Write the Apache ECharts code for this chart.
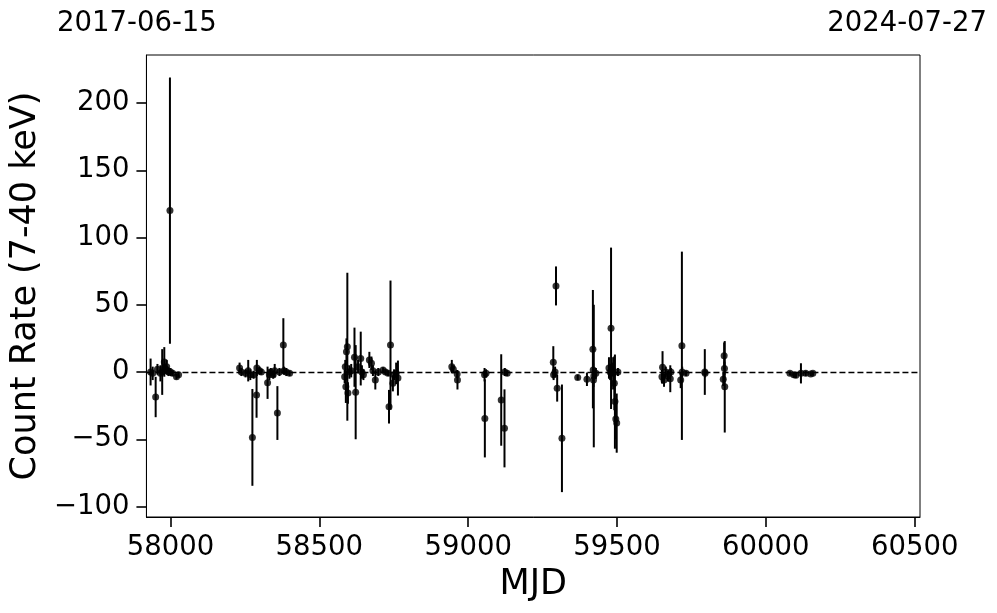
<!DOCTYPE html>
<html>
<head>
<meta charset="utf-8">
<script src="https://cdn.jsdelivr.net/npm/echarts@6/dist/echarts.min.js"></script>
<style>html,body{margin:0;padding:0;background:#fff;}#c{width:997px;height:613px;}</style>
</head>
<body>
<div id="c"></div>
<script>
// ---- data (MJD, count rate, 1-sigma error) ----
const mjd = [
  57933,57940,57950,57956,57966,57972,57979,57980,57983,57987,57990,57993,57998,58000,58007,58020,58027,
  58232,58238,58252,58261,58268,58275,58279,58289,58290,58299,58305,58326,58332,58337,58345,58350,58359,58366,58379,58381,58389,58400,
  58585,58587,58589,58591,58594,58596,58601,58607,58618,58622,58630,58639,58643,58648,58668,58675,58680,58688,58698,58714,58722,58731,58734,58739,58747,58751,58758,58764,
  58945,58950,58963,58964,59055,59056,59060,59111,59122,59123,59131,
  59286,59287,59292,59295,59299,59315,59368,59399,59419,59420,59421,59422,59429,59473,59477,59480,59483,59487,59491,59493,59496,59499,59503,
  59651,59653,59658,59664,59671,59679,59681,59714,59718,59719,59732,
  59795,59796,59857,59860,59861,59862,
  60081,60094,60101,60118,60134,60151,60158
];
const rate = [
  0,-1,-18.6,2,-1,0,7.5,3,2,4,1,0,120,0,-1,-3.5,-2,
  3,0,-1,1,-2,-48.6,-2,-17,3,1,0,-8,-2,0,-2,1,-30.5,0,20,1,0,-1,
  -3.5,4,-11,15,18.8,-15.6,0,1,11,-15,4,10,0,-2,9,6.5,1,-6,0,1.5,0,-1,-25.8,20,-8.4,-2,-1,-4.5,
  4,2,-1.5,-6,-2,-34.5,-1,-20.8,-41.9,0,-1,
  7.2,-2,0,64,-12,-49.3,-4,-5.4,17,1.5,-6,-3,-1,3,0,32.5,2,-1,-8.4,-22,-35,-38,0,
  -3.5,3.5,-6,0,-3,-5,0,-6,19.5,0,-1,
  0,-1,-5.4,12,2.7,-11,
  -1,-2,-2.5,-1,-1,-1.5,-1
];
const err = [
  10,5,15,4,6,17,11,3,3,5,3,3,99,3,2,2,2,
  4,3,3,8,4,36,3,17,6,3,2,12,4,3,3,5,20,3,20,3,3,2,
  5,5,12,10,55,8,5,5,22,35,5,20,5,4,6,5,4,7,3,2,2,2,12.5,48,6,4,8,13,
  5,3,3,7,5,29,3,34,29,3,2,
  12,4,4,14.5,10,40,2,5,44,5,5,53,4,8,6,60,5,12,20,35,15,22,3,
  5,12,5,4,4,10,3,6,70,4,2,
  17,3,5,10,5,34,
  1.5,2,2,7.5,2,1.5,1.5
];
const xTicks = [58000, 58500, 59000, 59500, 60000, 60500];
const yTicks = [-100, -50, 0, 50, 100, 150, 200];
const dateLabels = ['2017-06-15', '2024-07-27'];
const xLabel = 'MJD';
const yLabel = 'Count Rate (7-40 keV)';

const pts = mjd.map((m, i) => [m, rate[i], err[i]]);
const FONT = 'DejaVu Sans';

const chart = echarts.init(document.getElementById('c'), null, {renderer: 'canvas'});
chart.setOption({
  animation: false,
  backgroundColor: '#fff',
  grid: {left: 146, right: 77, top: 55, bottom: 96, show: true, borderColor: '#000', borderWidth: 1, backgroundColor: 'transparent'},
  xAxis: {
    type: 'value', min: 57919, max: 60518,
    name: xLabel, nameLocation: 'middle', nameGap: 50,
    nameTextStyle: {fontFamily: FONT, fontSize: 35, color: '#000'},
    axisLine: {show: true, onZero: false, lineStyle: {color: '#000', width: 1}},
    axisTick: {show: true, inside: false, length: 10, lineStyle: {color: '#000', width: 1.6}, customValues: xTicks},
    axisLabel: {fontFamily: FONT, fontSize: 27.5, color: '#000', margin: 17, customValues: xTicks, formatter: v => String(v)},
    splitLine: {show: false}
  },
  yAxis: {
    type: 'value', min: -107.8, max: 235.7,
    name: yLabel, nameLocation: 'middle', nameGap: 96, nameRotate: 90,
    nameTextStyle: {fontFamily: FONT, fontSize: 35, color: '#000'},
    axisLine: {show: true, onZero: false, lineStyle: {color: '#000', width: 1}},
    axisTick: {show: true, inside: false, length: 10, lineStyle: {color: '#000', width: 1.6}, customValues: yTicks},
    axisLabel: {fontFamily: FONT, fontSize: 27.5, color: '#000', margin: 17, customValues: yTicks,
      formatter: v => (v < 0 ? '\u2212' + Math.abs(v) : String(v))},
    splitLine: {show: false}
  },
  graphic: [
    {type: 'text', left: 57, top: 10, style: {text: dateLabels[0], fontFamily: FONT, fontSize: 27.5, fill: '#000'}},
    {type: 'text', right: 10, top: 10, style: {text: dateLabels[1], fontFamily: FONT, fontSize: 27.5, fill: '#000'}}
  ],
  series: [
    {
      type: 'custom',
      data: pts,
      encode: {x: 0, y: 1},
      z: 3,
      clip: true,
      renderItem: function (params, api) {
        const x = api.value(0), y = api.value(1), e = api.value(2);
        const p1 = api.coord([x, y - e]);
        const p2 = api.coord([x, y + e]);
        return {type: 'line', shape: {x1: p1[0], y1: p1[1], x2: p2[0], y2: p2[1]},
          style: {stroke: '#000', lineWidth: 2}};
      }
    },
    {
      type: 'scatter',
      data: pts.map(p => [p[0], p[1]]),
      symbol: 'circle', symbolSize: 7,
      itemStyle: {color: '#000'},
      z: 4,
      markLine: {
        silent: true, symbol: ['none', 'none'], label: {show: false},
        lineStyle: {color: '#000', type: [6, 3], width: 1.3},
        data: [{yAxis: 0}],
        z: 2
      }
    }
  ]
});
</script>
</body>
</html>
